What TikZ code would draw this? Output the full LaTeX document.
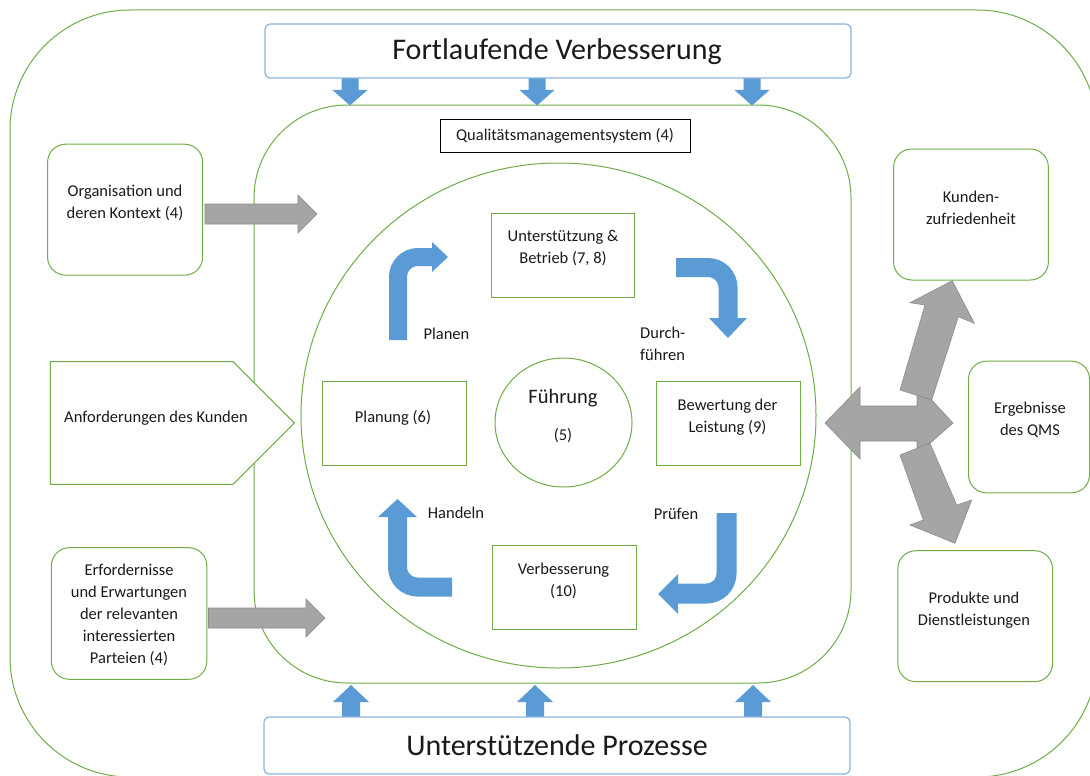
\documentclass[tikz,border=0pt]{standalone}
\usepackage{fontspec}
\setmainfont{Carlito}
\usetikzlibrary{shapes.geometric}
\definecolor{grn}{HTML}{70AD47}
\definecolor{lblue}{HTML}{8DB6E2}
\definecolor{ablue}{HTML}{5B9BD5}
\definecolor{gfill}{HTML}{A5A5A5}
\definecolor{gedge}{HTML}{8C8C8C}
\definecolor{txt}{HTML}{1A1A1A}
\begin{document}
\begin{tikzpicture}[x=1pt,y=-1pt,
  every node/.style={text=txt},
  grnline/.style={draw=grn, line width=1.0pt},
  rbox/.style={grnline, rounded corners=18pt, inner sep=0pt, fill=white},
  sqbox/.style={grnline, inner sep=0pt, fill=white},
  tb/.style={font=\fontsize{16.5}{22}\selectfont, align=center, inner sep=0pt},
  bigtxt/.style={font=\fontsize{30}{36}\selectfont, inner sep=0pt},
  bluebox/.style={draw=lblue, line width=1.3pt, rounded corners=5pt, fill=white, inner sep=0pt},
  garrow/.style={fill=gfill, draw=gedge, line width=0.6pt, line join=miter},
  bendarrow/.style={draw=ablue, line width=#1, rounded corners=20pt},
  ahead/.style={fill=ablue}
]
\useasboundingbox (0,0) rectangle (1090,776);
\clip (0,0) rectangle (1090,776);
\fill[white] (0,0) rectangle (1090,776);

% outer frame
\node[grnline, rounded corners=120pt, minimum width=1087pt, minimum height=767pt, inner sep=0pt] (outer) at (553.5,393.5) {};

% QMS frame and cycle circle
\node[grnline, rounded corners=93pt, minimum width=597pt, minimum height=578pt, inner sep=0pt] (qms) at (552.5,394) {};
\node[grnline, ellipse, minimum width=515pt, minimum height=505pt, inner sep=0pt] (cyc) at (558.5,415.5) {};

% blue arrows top and bottom
\foreach \x in {350,537,752} {
  \fill[ablue] (\x-8.5,78) -- (\x+8.5,78) -- (\x+8.5,90) -- (\x+17.5,90) -- (\x,105.5) -- (\x-17.5,90) -- (\x-8.5,90) -- cycle;
}
\foreach \x in {351,535,753} {
  \fill[ablue] (\x-9,717) -- (\x+9,717) -- (\x+9,702) -- (\x+18,702) -- (\x,685) -- (\x-18,702) -- (\x-9,702) -- cycle;
}

% top and bottom boxes
\node[bluebox, minimum width=586pt, minimum height=54pt] (fort) at (558,51) {};
\node[bigtxt] (fortT) at (557,52) {Fortlaufende Verbesserung};
\node[bluebox, minimum width=586pt, minimum height=57pt] (unt) at (557,745.5) {};
\node[bigtxt] (untT) at (557,745) {Unterstützende Prozesse};

% QMS label
\node[draw=black, line width=0.9pt, minimum width=250pt, minimum height=33pt, inner sep=0pt, tb] (qmsL) at (565,135.5) {Qualitätsmanagementsystem (4)};

% inner cycle boxes
\node[sqbox, minimum width=143pt, minimum height=84pt] (ub) at (562.5,255) {};
\node[tb] (ubT) at (563,248) {Unterstützung \&\\Betrieb (7, 8)};
\node[sqbox, minimum width=144pt, minimum height=84pt] (plan) at (394,423) {};
\node[tb] (planT) at (393,418) {Planung (6)};
\node[sqbox, minimum width=144pt, minimum height=84pt] (bew) at (728,423) {};
\node[tb] (bewT) at (727.5,417) {Bewertung der\\Leistung (9)};
\node[sqbox, minimum width=143.5pt, minimum height=83.5pt] (verb) at (564.3,587.4) {};
\node[tb] (verbT) at (563.5,581) {Verbesserung\\(10)};

% Fuehrung
\node[grnline, ellipse, minimum width=137pt, minimum height=129pt, inner sep=0pt] (fuehr) at (563.5,422.5) {};
\node[font=\fontsize{20.5}{24}\selectfont, inner sep=0pt] (fuehrT) at (563,398) {Führung};
\node[tb] (fuehrN) at (563,436) {(5)};

% bent PDCA arrows
\draw[bendarrow=18pt] (398,340) -- (398,257) -- (432,257);
\fill[ahead] (432,242) -- (448,257) -- (432,272) -- cycle;
\draw[bendarrow=19pt] (676,267.5) -- (728,267.5) -- (728,318);
\fill[ahead] (709,318) -- (747,318) -- (728,338) -- cycle;
\draw[bendarrow=20pt] (726.5,513) -- (726.5,593.5) -- (678,593.5);
\fill[ahead] (678,574) -- (678,614) -- (658,594) -- cycle;
\draw[bendarrow=19pt] (452,587) -- (397.5,587) -- (397.5,517);
\fill[ahead] (378,517) -- (417,517) -- (397.5,499) -- cycle;

\node[tb] (planen) at (446.5,334) {Planen};
\node[tb, align=left, anchor=west] (durch) at (640,343.5) {Durch-\\führen};
\node[tb] (pruef) at (676,513.5) {Prüfen};
\node[tb] (handeln) at (456,512.5) {Handeln};

% left side
\node[rbox, minimum width=155pt, minimum height=131pt] (org) at (125.1,209.7) {};
\node[tb] (orgT) at (125,203) {Organisation und\\deren Kontext (4)};
\draw[garrow] (205,204) -- (298,204) -- (298,195) -- (317,214) -- (298,233) -- (298,224) -- (205,224) -- cycle;

\draw[grnline, fill=white] (50.4,361.7) -- (233,361.7) -- (294.4,423) -- (233,484.3) -- (50.4,484.3) -- cycle;
\node[tb] (anf) at (156,418) {Anforderungen des Kunden};

\node[rbox, minimum width=155.4pt, minimum height=131.6pt] (erf) at (129.1,613.5) {};
\node[tb] (erfT) at (129,615) {Erfordernisse\\und Erwartungen\\der relevanten\\interessierten\\Parteien (4)};
\draw[garrow] (208.5,608) -- (306,608) -- (306,599) -- (325,618) -- (306,637) -- (306,628) -- (208.5,628) -- cycle;

% right side
\node[rbox, minimum width=154.7pt, minimum height=131pt] (kun) at (971,214.5) {};
\node[tb] (kunT) at (971,207.5) {Kunden-\\zufriedenheit};
\node[rbox, minimum width=121pt, minimum height=131.7pt] (erg) at (1029,427) {};
\node[tb] (ergT) at (1030,419.5) {Ergebnisse\\des QMS};
\node[rbox, minimum width=154.7pt, minimum height=131pt] (prod) at (975.2,616.2) {};
\node[tb] (prodT) at (974,610.5) {Produkte und\\Dienstleistungen};

% three-way gray arrow
\draw[garrow] (825,423) -- (860,387) -- (860,406) -- (917,406) -- (917,395.4) -- (931.7,400) -- (953,423) -- (930,443.3) -- (917,448.4) -- (917,441) -- (860,441) -- (860,459) -- cycle;
\draw[garrow] (900,390) -- (925,305) -- (910,302.7) -- (952.3,280.7) -- (974.3,323.3) -- (958.3,316.7) -- (931.7,400) -- cycle;
\draw[garrow] (900,455) -- (923.3,520) -- (910,525) -- (955,543.3) -- (971.7,500) -- (956.7,505) -- (930,443.3) -- cycle;
\end{tikzpicture}
\end{document}
